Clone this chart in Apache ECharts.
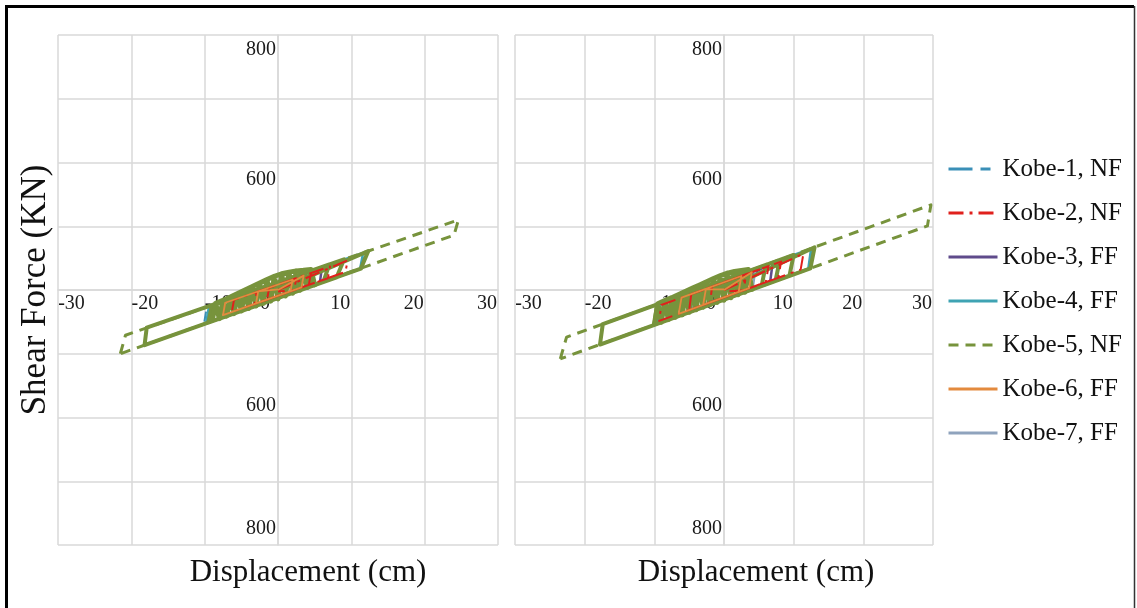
<!DOCTYPE html>
<html><head><meta charset="utf-8">
<script src="https://cdn.jsdelivr.net/npm/echarts@6/dist/echarts.min.js"></script>
<style>html,body{margin:0;padding:0;background:#fff}#c{width:1137px;height:608px}</style>
</head><body><div id="c"></div><script>
// ---------- data ----------
const seriesNames = ['Kobe-1, NF','Kobe-2, NF','Kobe-3, FF','Kobe-4, FF','Kobe-5, NF','Kobe-6, FF','Kobe-7, FF'];
const xTitle = 'Displacement (cm)';
const yTitle = 'Shear Force (KN)';
// y tick labels as printed in the figure (value position, text)
const yLabelValues = [755, 345, -364, -748];
const yLabelTexts = ['800', '600', '600', '800'];

// Left panel loops [displacement cm, force kN]
const kobe1Left = [[0,0],[11.9,119],[11.5,69],[-10.1,-107],[-9.7,-53],[0,24]];
const kobe2Left = [[0,0],[9.5,93],[9.2,57],[-6.3,-69],[-6.0,-31],[7.1,74],[6.8,37],[-3.2,-44],[-2.9,-6],[4.5,53],[4.2,16],[-1.5,-30],[-1.2,7],[2.5,37],[2.2,0],[0,-5]];
const kobe3Left = [[0,0],[6,72],[5.7,22],[-6,-74],[-5.7,-21],[0,24]];
const kobe4Left = [[-9.8,-105],[-9.4,-51],[11.6,116],[11.2,66],[-9.8,-105]];
const kobe5LeftOuter = [[-21.5,-200],[-20.8,-142],[24.6,220],[24.0,172],[-21.5,-200]];
const kobe5LeftInner = [[0,0],[12.3,122],[11.3,67],[-18.2,-173],[-17.9,-118],[9,96],[8,40],[-9.5,-102],[-9,-48],[7,80],[6.2,26],[-7,-82],[-6.6,-28],[5,64],[4.2,9],[-5,-66],[-4.6,-13],[3,48],[2.4,-5],[-3,-50],[-2.6,3],[0,0]];
const kobe5LeftCore = [[-9.0,-98],[-8.5,-42],[-8.0,-90],[-7.5,-32],[-7.0,-82],[-6.5,-22],[-6.0,-74],[-5.5,-11],[-5.0,-66],[-4.5,0],[-4.0,-58],[-3.5,11],[-3.0,-50],[-2.5,22],[-2.0,-42],[-1.5,33],[-1.0,-35],[-0.5,43],[0.0,-28],[0.5,51],[1.0,-19],[1.5,56],[2.0,-10],[2.5,60],[3.0,-1],[3.5,62],[4.0,8],[4.5,64],[5.0,16],
  [4.5,64],[3.5,62],[2.5,60],[1.5,56],[0.5,51],[-0.5,43],[-1.5,33],[-2.5,22],[-3.5,11],[-4.5,0],[-5.5,-11],[-6.5,-22],[-7.5,-32],[-8.5,-42]];
const kobe6Left = [[0,0],[3.5,45],[3.2,8],[-7.5,-79],[-7.2,-40],[2,33],[1.7,-4],[-3,-42],[-2.7,-4],[0,2]];
const kobe7Left = [[0,0],[4,56],[3.7,5],[-4,-58],[-3.7,-5],[0,10]];

// Right panel loops
const kobe1Right = [[0,0],[12.7,132],[12.3,68],[-9.6,-106],[-9.3,-43],[0,31]];
const kobe2Right = [[0,0],[11.4,114],[11.0,64],[-9.3,-97],[-9.0,-47],[8.2,89],[7.8,39],[-5,-63],[-4.7,-13],[6.4,75],[6.0,25],[-2,-39],[-1.7,11],[3.2,49],[2.8,-1],[0,-5]];
const kobe3Right = [[0,0],[7,87],[6.6,22],[-6,-78],[-5.6,-13],[0,31]];
const kobe4Right = [[-9.4,-104],[-9.1,-41],[12.5,130],[12.1,66],[-9.4,-104]];
const kobe5RightOuter = [[-23.5,-216],[-22.6,-148],[29.7,267],[29.2,201],[-23.5,-216]];
const kobe5RightInner = [[0,0],[13.0,134],[12.4,68],[-17.8,-171],[-17.4,-107],[10,110],[9.4,45],[-10,-109],[-9.6,-45],[8,94],[7.4,29],[-7.5,-89],[-7.1,-25],[6,79],[5.4,13],[-5,-70],[-4.6,-5],[3,55],[2.5,-10],[-3,-54],[-2.5,11],[0,0]];
const kobe5RightCore = [[-10.0,-109],[-9.5,-43],[-9.0,-101],[-8.5,-33],[-8.0,-93],[-7.5,-24],[-7.0,-86],[-6.5,-14],[-6.0,-78],[-5.5,-4],[-5.0,-70],[-4.5,6],[-4.0,-62],[-3.5,16],[-3.0,-54],[-2.5,26],[-2.0,-46],[-1.5,36],[-1.0,-39],[-0.5,45],[0.0,-32],[0.5,53],[1.0,-24],[1.5,58],[2.0,-15],[2.5,61],[3.0,-7],[3.5,64],[4.0,2],
  [3.5,64],[2.5,61],[1.5,58],[0.5,53],[-0.5,45],[-1.5,36],[-2.5,26],[-3.5,16],[-4.5,6],[-5.5,-4],[-6.5,-14],[-7.5,-24],[-8.5,-33],[-9.5,-43]];
const kobe6Right = [[0,0],[4,56],[3.6,6],[-6.5,-75],[-6.1,-24],[2.5,44],[2.1,-6],[-3,-47],[-2.6,3],[0,2]];
const kobe7Right = [[0,0],[4.5,67],[4.1,3],[-4.5,-66],[-4.1,-2],[0,10]];

// ---------- styles ----------
const FONT = '"Liberation Serif", "Times New Roman", serif';
const colors = ['#3a8fb7', '#e0201c', '#5f4b8b', '#3fa3b3', '#77933c', '#e38a3e', '#8fa3bd'];
const dashes = [[24,8,10,8], [15,6,3,6], 'solid', 'solid', [10,7], 'solid', 'solid'];
const widths = [2, 2.5, 2.5, 2.5, 3, 2.5, 2.5];
const gridCol = '#d9d9d9';

function xLabelFmt(v) {
  const t = String(v);
  if (v < 0) return '{sn| }{a|' + t + '}';
  if (v === 0) return '{a|0}{s0| }';
  return '{a|' + t + '}{sp| }';
}
function makeX(gi) {
  return { type: 'value', gridIndex: gi, min: -30, max: 30, interval: 10, position: 'bottom', offset: -255,
    axisLine: { show: true, onZero: false, lineStyle: { color: gridCol, width: 1.5 } },
    axisTick: { show: false },
    splitLine: { show: true, lineStyle: { color: gridCol, width: 1.5 } },
    axisLabel: { show: true, margin: 4, showMinLabel: true, showMaxLabel: true, formatter: xLabelFmt,
      rich: { a: { fontSize: 20, fontFamily: FONT, color: '#1a1a1a' }, sn: { width: 27 }, s0: { width: 26 }, sp: { width: 22 } } }
  };
}
function makeY(gi, off) {
  return { type: 'value', gridIndex: gi, min: -800, max: 800, interval: 200, position: 'left', offset: off,
    axisLine: { show: true, onZero: false, lineStyle: { color: gridCol, width: 1.5 } },
    axisTick: { show: false },
    splitLine: { show: true, lineStyle: { color: gridCol, width: 1.5 } },
    axisLabel: { show: true, margin: 2, customValues: yLabelValues,
      formatter: function (v) { const i = yLabelValues.indexOf(v); return i >= 0 ? yLabelTexts[i] : ''; },
      fontSize: 20, fontFamily: FONT, color: '#1a1a1a' }
  };
}
function line(idx, data, gi, extra) {
  const s = { type: 'line', name: seriesNames[idx], data: data, xAxisIndex: gi, yAxisIndex: gi,
    symbol: 'none', showSymbol: false, animation: false, emphasis: { disabled: true },
    lineStyle: { color: colors[idx], width: widths[idx], type: dashes[idx], cap: 'butt', join: 'round' },
    itemStyle: { color: colors[idx] } };
  if (extra) Object.assign(s.lineStyle, extra);
  return s;
}
const panels = [
  [kobe1Left, kobe2Left, kobe3Left, kobe4Left, kobe5LeftOuter, kobe5LeftInner, kobe6Left, kobe7Left, kobe5LeftCore],
  [kobe1Right, kobe2Right, kobe3Right, kobe4Right, kobe5RightOuter, kobe5RightInner, kobe6Right, kobe7Right, kobe5RightCore]
];
const series = [];
panels.forEach(function (p, gi) {
  series.push(line(0, p[0], gi));
  series.push(line(2, p[2], gi));
  series.push(line(3, p[3], gi));
  series.push(line(6, p[7], gi));
});
panels.forEach(function (p, gi) { series.push(line(4, p[4], gi)); });
panels.forEach(function (p, gi) {
  series.push(line(4, p[5], gi, { type: 'solid', width: 4 }));
  series.push(line(4, p[8], gi, { type: 'solid', width: 5 }));
});
panels.forEach(function (p, gi) {
  series.push(line(1, p[1], gi, { width: 2 }));
  series.push(line(5, p[6], gi, { width: 1.8 }));
});

const chart = echarts.init(document.getElementById('c'), null, { renderer: 'canvas' });
chart.setOption({
  animation: false,
  backgroundColor: '#ffffff',
  grid: [
    { left: 58, top: 35, width: 440, height: 510, containLabel: false },
    { left: 515, top: 35, width: 418, height: 510, containLabel: false }
  ],
  xAxis: [makeX(0), makeX(1)],
  yAxis: [makeY(0, -220), makeY(1, -209)],
  legend: {
    data: seriesNames, orient: 'vertical', left: 947, top: 154, padding: 0,
    itemWidth: 49, itemHeight: 14, itemGap: 14,
    lineStyle: { width: 3 },
    itemStyle: { opacity: 0 },
    textStyle: { fontFamily: FONT, fontSize: 25, color: '#111', lineHeight: 30 },
    selectedMode: false
  },
  graphic: [
    { type: 'polyline', shape: { points: [[6.5, 620], [6.5, 6.5], [1134, 6.5]] }, style: { fill: 'none', stroke: '#000', lineWidth: 3 }, silent: true },
    { type: 'line', shape: { x1: 1134.5, y1: 6, x2: 1134.5, y2: 608 }, style: { stroke: '#333', lineWidth: 1.5 }, silent: true },
    { type: 'text', x: 36, y: 290, rotation: Math.PI / 2, silent: true,
      style: { text: yTitle, x: 0, y: 0, align: 'center', verticalAlign: 'middle', font: '35px ' + FONT, fill: '#111' } },
    { type: 'text', x: 308, y: 573, silent: true,
      style: { text: xTitle, align: 'center', verticalAlign: 'middle', font: '31px ' + FONT, fill: '#111' } },
    { type: 'text', x: 756, y: 573, silent: true,
      style: { text: xTitle, align: 'center', verticalAlign: 'middle', font: '31px ' + FONT, fill: '#111' } }
  ],
  series: series
});
</script></body></html>
